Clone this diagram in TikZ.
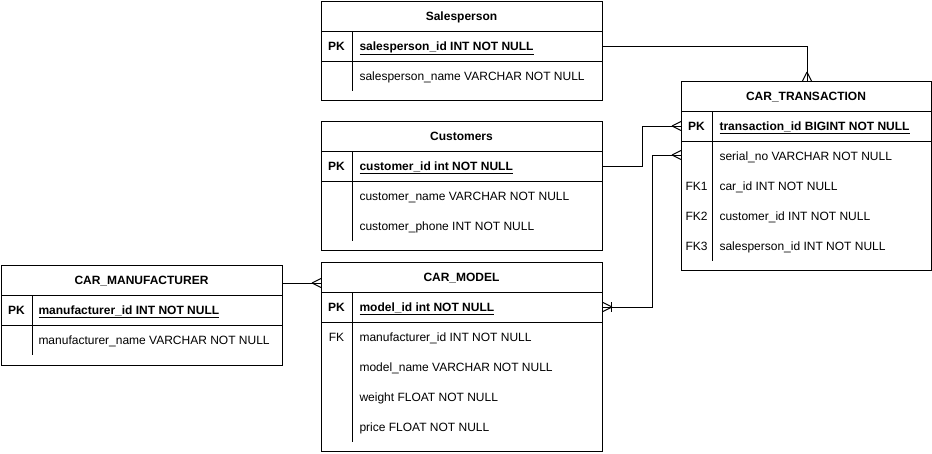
\documentclass[tikz,border=0pt]{standalone}
\usepackage{fontspec}
\setmainfont{Liberation Sans}
\begin{document}
\begin{tikzpicture}[x=1pt,y=-1pt,line width=1pt,
  box/.style={draw,inner sep=0pt,anchor=north west},
  ttl/.style={font=\fontsize{12}{14}\selectfont\bfseries,inner sep=0pt,anchor=base},
  fld/.style={font=\fontsize{12}{14}\selectfont,inner sep=0pt,anchor=base west},
  key/.style={font=\fontsize{12}{14}\selectfont,inner sep=0pt,anchor=base},
  bkey/.style={key,font=\fontsize{12}{14}\selectfont\bfseries},
  pkf/.style={fld,font=\fontsize{12}{14}\selectfont\bfseries},
  conn/.style={draw,line width=1pt}]
\useasboundingbox (0,0) rectangle (932,453);
% Salesperson
\node[box,minimum width=281pt,minimum height=99pt] (sp) at (321,1) {};
\draw (321,31) -- (602,31) (321,61) -- (602,61) (352,31) -- (352,91);
\node[ttl] (spt) at (461.5,20.5) {Salesperson};
\node[bkey] (spk) at (336.5,50.5) {PK};
\node[pkf] (sp1) at (359,50.5) {\underline{salesperson\_id INT NOT NULL}};
\node[fld] (sp2) at (359,80.5) {salesperson\_name VARCHAR NOT NULL};
% Customers
\node[box,minimum width=281pt,minimum height=129pt] (cu) at (321,121) {};
\draw (321,151) -- (602,151) (321,181) -- (602,181) (352,151) -- (352,241);
\node[ttl] (cut) at (461.5,140.5) {Customers};
\node[bkey] (cuk) at (336.5,170.5) {PK};
\node[pkf] (cu1) at (359,170.5) {\underline{customer\_id int NOT NULL}};
\node[fld] (cu2) at (359,200.5) {customer\_name VARCHAR NOT NULL};
\node[fld] (cu3) at (359,230.5) {customer\_phone INT NOT NULL};
% CAR_MANUFACTURER
\node[box,minimum width=281pt,minimum height=100pt] (mf) at (1,265) {};
\draw (1,295) -- (282,295) (1,325) -- (282,325) (32,295) -- (32,355);
\node[ttl] (mft) at (141.5,284.5) {CAR\_MANUFACTURER};
\node[bkey] (mfk) at (16.5,314.5) {PK};
\node[pkf] (mf1) at (38,314.5) {\underline{manufacturer\_id INT NOT NULL}};
\node[fld] (mf2) at (38,344.5) {manufacturer\_name VARCHAR NOT NULL};
% CAR_MODEL
\node[box,minimum width=281pt,minimum height=189pt] (cm) at (321,262) {};
\draw (321,292) -- (602,292) (321,322) -- (602,322) (352,292) -- (352,442);
\node[ttl] (cmt) at (461.5,281.5) {CAR\_MODEL};
\node[bkey] (cmk) at (336.5,311.5) {PK};
\node[pkf] (cm1) at (359,311.5) {\underline{model\_id int NOT NULL}};
\node[key] (cmk2) at (336.5,341.5) {FK};
\node[fld] (cm2) at (359,341.5) {manufacturer\_id INT NOT NULL};
\node[fld] (cm3) at (359,371.5) {model\_name VARCHAR NOT NULL};
\node[fld] (cm4) at (359,401.5) {weight FLOAT NOT NULL};
\node[fld] (cm5) at (359,431.5) {price FLOAT NOT NULL};
% CAR_TRANSACTION
\node[box,minimum width=250pt,minimum height=189pt] (ct) at (681,81) {};
\draw (681,111) -- (931,111) (681,141) -- (931,141) (712,111) -- (712,261);
\node[ttl] (ctt) at (806,100.5) {CAR\_TRANSACTION};
\node[bkey] (ctk) at (696.5,130.5) {PK};
\node[pkf] (ct1) at (719,130.5) {\underline{transaction\_id BIGINT NOT NULL}};
\node[fld] (ct2) at (719,160.5) {serial\_no VARCHAR NOT NULL};
\node[key] (ctk3) at (696.5,190.5) {FK1};
\node[fld] (ct3) at (719,190.5) {car\_id INT NOT NULL};
\node[key] (ctk4) at (696.5,220.5) {FK2};
\node[fld] (ct4) at (719,220.5) {customer\_id INT NOT NULL};
\node[key] (ctk5) at (696.5,250.5) {FK3};
\node[fld] (ct5) at (719,250.5) {salesperson\_id INT NOT NULL};
% connector endpoints
\coordinate (a1) at (sp.east |- 0,46);
\coordinate (b1) at (807,81);
\coordinate (a2) at (cu.east |- 0,166);
\coordinate (b2) at (ct.west |- 0,126);
\coordinate (a3) at (cm.east |- 0,307);
\coordinate (b3) at (ct.west |- 0,155);
\coordinate (a4) at (mf.east |- 0,283);
\coordinate (b4) at (cm.west |- 0,283);
% connectors
\draw[conn] (a1) -| (b1);
\draw[conn] (b1) ++(0,-9) -- ++(-4.5,9) (b1) ++(0,-9) -- ++(4.5,9);
\draw[conn] (a2) -- ++(39,0) |- (b2);
\draw[conn] (b2) ++(-9,0) -- ++(9,-4.5) (b2) ++(-9,0) -- ++(9,4.5);
\draw[conn] (a3) -- ++(49,0) |- (b3);
\draw[conn] (b3) ++(-9,0) -- ++(9,-4.5) (b3) ++(-9,0) -- ++(9,4.5);
\draw[conn] (a3) ++(9,0) -- ++(-9,-4.5) (a3) ++(9,0) -- ++(-9,4.5);
\draw[conn] (a3) ++(8,-5) -- ++(0,10);
\draw[conn] (a4) -- (b4);
\draw[conn] (b4) ++(-9,0) -- ++(9,-4.5) (b4) ++(-9,0) -- ++(9,4.5);
\end{tikzpicture}
\end{document}
